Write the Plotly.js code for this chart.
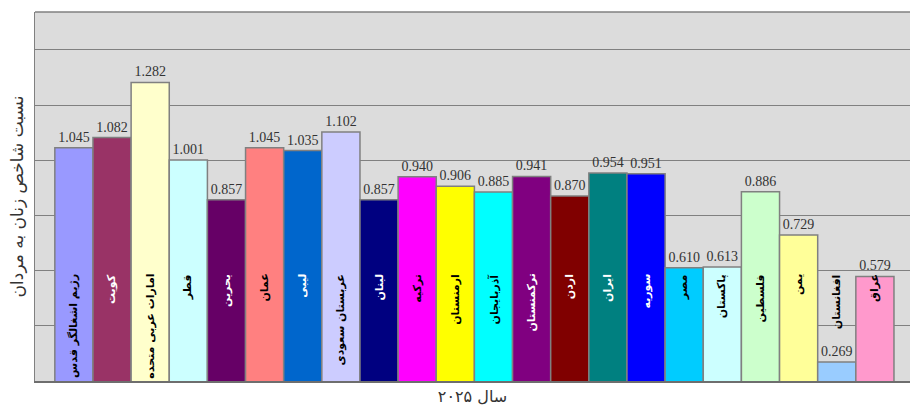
<!DOCTYPE html>
<html>
<head>
<meta charset="utf-8">
<script src="https://cdn.plot.ly/plotly-3.0.1.min.js"></script>
<style>html,body{margin:0;padding:0;background:#fff;}#chart{width:910px;height:407px;}</style>
</head>
<body>
<div id="chart"></div>
<script>
const countries = ["رژیم اشغالگر قدس","کویت","امارات عربی متحده","قطر","بحرین","عمان","لیبی","عربستان سعودی","لبنان","ترکیه","ارمنستان","آذربایجان","ترکمنستان","اردن","ایران","سوریه","مصر","پاکستان","فلسطین","یمن","افغانستان","عراق"];
const ratios = [1.045,1.082,1.282,1.001,0.857,1.045,1.035,1.102,0.857,0.940,0.906,0.885,0.941,0.870,0.954,0.951,0.610,0.613,0.886,0.729,0.269,0.579];
const barColors = ["#9999ff","#993366","#ffffcc","#ccffff","#660066","#ff8080","#0066cc","#ccccff","#000080","#ff00ff","#ffff00","#00ffff","#800080","#800000","#008080","#0000ff","#00ccff","#ccffff","#ccffcc","#ffff99","#99ccff","#ff99cc"];
const labelColors = ["#000","#fff","#000","#000","#fff","#000","#fff","#000","#fff","#000","#000","#000","#fff","#fff","#fff","#fff","#000","#000","#000","#000","#000","#000"];
const xTitle = "سال ۲۰۲۵";
const yTitle = "نسبت شاخص زنان به مردان";

const idx = countries.map((c,i)=>i);

const trace = {
  type: "bar",
  x: idx,
  y: ratios,
  width: 1,
  marker: {color: barColors, line: {color: "#808080", width: 1.5}},
  text: ratios.map(v=>v.toFixed(3)),
  textposition: "outside",
  cliponaxis: false,
  textfont: {family: "Liberation Serif, Times New Roman, serif", size: 14, color: "#333333"},
  hoverinfo: "x+y",
  base: 0
};

const annotations = countries.map((c,i)=>({
  x: i, y: 0.595, xref: "x", yref: "y",
  text: "<b>"+c+"</b>",
  showarrow: false,
  textangle: -90,
  xanchor: "center", yanchor: "top",
  font: {family: "DejaVu Sans, sans-serif", size: 11, color: labelColors[i]}
}));

const layout = {
  width: 910, height: 407,
  margin: {l: 35, r: 0, t: 12, b: 26},
  paper_bgcolor: "#ffffff",
  plot_bgcolor: "#dcdcdc",
  showlegend: false,
  bargap: 0,
  xaxis: {
    range: [-1.02, 21.92],
    showticklabels: false, ticks: "",
    showgrid: false, zeroline: false,
    showline: true, linecolor: "#6e6e6e", linewidth: 1.5, mirror: false,
    title: {text: xTitle, font: {family: "DejaVu Sans, sans-serif", size: 16, color: "#333"}, standoff: 9},
    automargin: false
  },
  yaxis: {
    range: [0.2, 1.537],
    tick0: 0.2, dtick: 0.2,
    showticklabels: false, ticks: "",
    showgrid: true, gridcolor: "#808080", gridwidth: 1,
    zeroline: false,
    showline: true, linecolor: "#808080", linewidth: 1, mirror: true,
    title: {text: yTitle, font: {family: "DejaVu Sans, sans-serif", size: 17, color: "#333"}, standoff: 6},
    automargin: false
  },
  shapes: [{type: "line", xref: "paper", yref: "paper", x0: 0, x1: 1, y0: 1, y1: 1, line: {color: "#808080", width: 1.5}}],
  annotations: annotations
};

Plotly.newPlot("chart", [trace], layout, {displayModeBar: false, staticPlot: true});
</script>
</body>
</html>
